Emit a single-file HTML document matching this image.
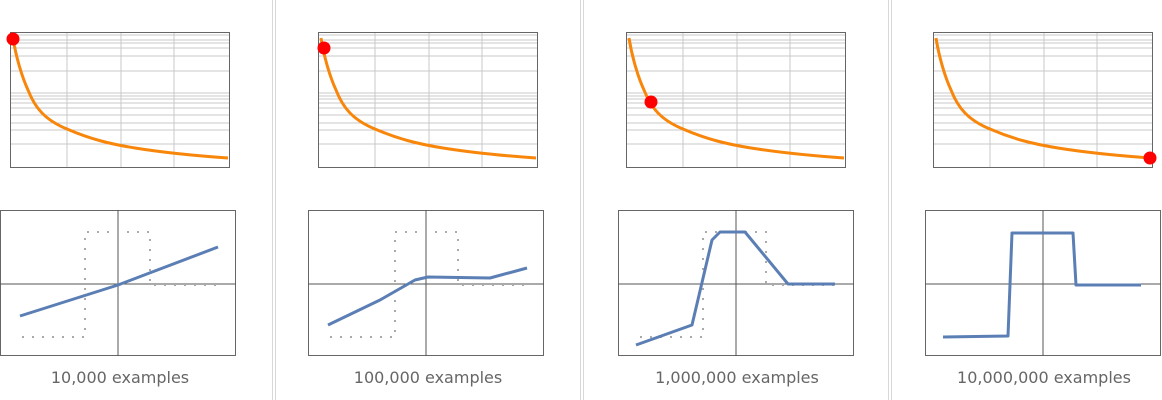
<!DOCTYPE html><html><head><style>body{margin:0;background:#fff}svg{display:block}text{font-family:"DejaVu Sans","Liberation Sans",sans-serif;font-size:16px;fill:#666;text-anchor:middle}</style></head><body>
<svg width="1162" height="400" xmlns="http://www.w3.org/2000/svg">
<defs>
<g id="top">
<rect x="0" y="0" width="220" height="136" fill="#fff"/>
<g stroke="#c8c8c8" stroke-width="1">
<path d="M0 3H220M0 8H220M0 11H220M0 16H220M0 24H220M0 39H220M0 61H220M0 64H220M0 67H220M0 71H220M0 76H220M0 83H220M0 91H220M0 98H220M0 112H220"/>
<path d="M57 0V136M111 0V136M164 0V136"/>
</g>
<rect x="0.5" y="0.5" width="219" height="135" fill="none" stroke="#666"/>
<path d="M3 6 C6 25 12 45 18 58 C25 76 35 88 57 97 C80 107 100 112 125 116 C150 120 175 123 218 126" fill="none" stroke="#f7860b" stroke-width="3"/>
</g>
<g id="bot">
<rect x="0.5" y="0.5" width="235" height="145" fill="#fff" stroke="#666"/>
<path d="M118 0V146M0 74H236" stroke="#555" stroke-width="1"/>
</g>
</defs>
<g stroke="#d8d8d8"><path d="M272.5 0V400M275.5 0V400M580.5 0V400M583.5 0V400M888.5 0V400M891.5 0V400"/></g>
<use href="#top" x="10" y="32"/><use href="#top" x="318" y="32"/><use href="#top" x="626" y="32"/><use href="#top" x="933" y="32"/>
<use href="#bot" x="0" y="210"/><use href="#bot" x="308" y="210"/><use href="#bot" x="618" y="210"/><use href="#bot" x="925" y="210"/>
<g fill="none" stroke="#aaa" stroke-width="2" stroke-dasharray="2 8">
<path d="M22 337H85V232H150V285H218"/>
<path d="M330 337H395V232H458V285H526"/>
<path d="M640 337H703V232H766V285H835"/>
</g>
<g fill="none" stroke="#5b7fb5" stroke-width="3" stroke-linejoin="round">
<path d="M20 316L118 285L218 247"/>
<path d="M328 325L380 300L415 280L428 277L490 278L527 268"/>
<path d="M636 345L692 325L712 240L720 232L745 232L788 284L835 284"/>
<path d="M943 337L1008 336L1012 233L1073 233L1076 285L1141 285"/>
</g>
<g fill="#f00"><circle cx="13" cy="39" r="6.5"/><circle cx="324" cy="48" r="6.5"/><circle cx="651" cy="102" r="6.5"/><circle cx="1150" cy="158" r="6.5"/></g>
<text x="120" y="383">10,000 examples</text>
<text x="428" y="383">100,000 examples</text>
<text x="737" y="383">1,000,000 examples</text>
<text x="1044" y="383">10,000,000 examples</text>
</svg></body></html>
